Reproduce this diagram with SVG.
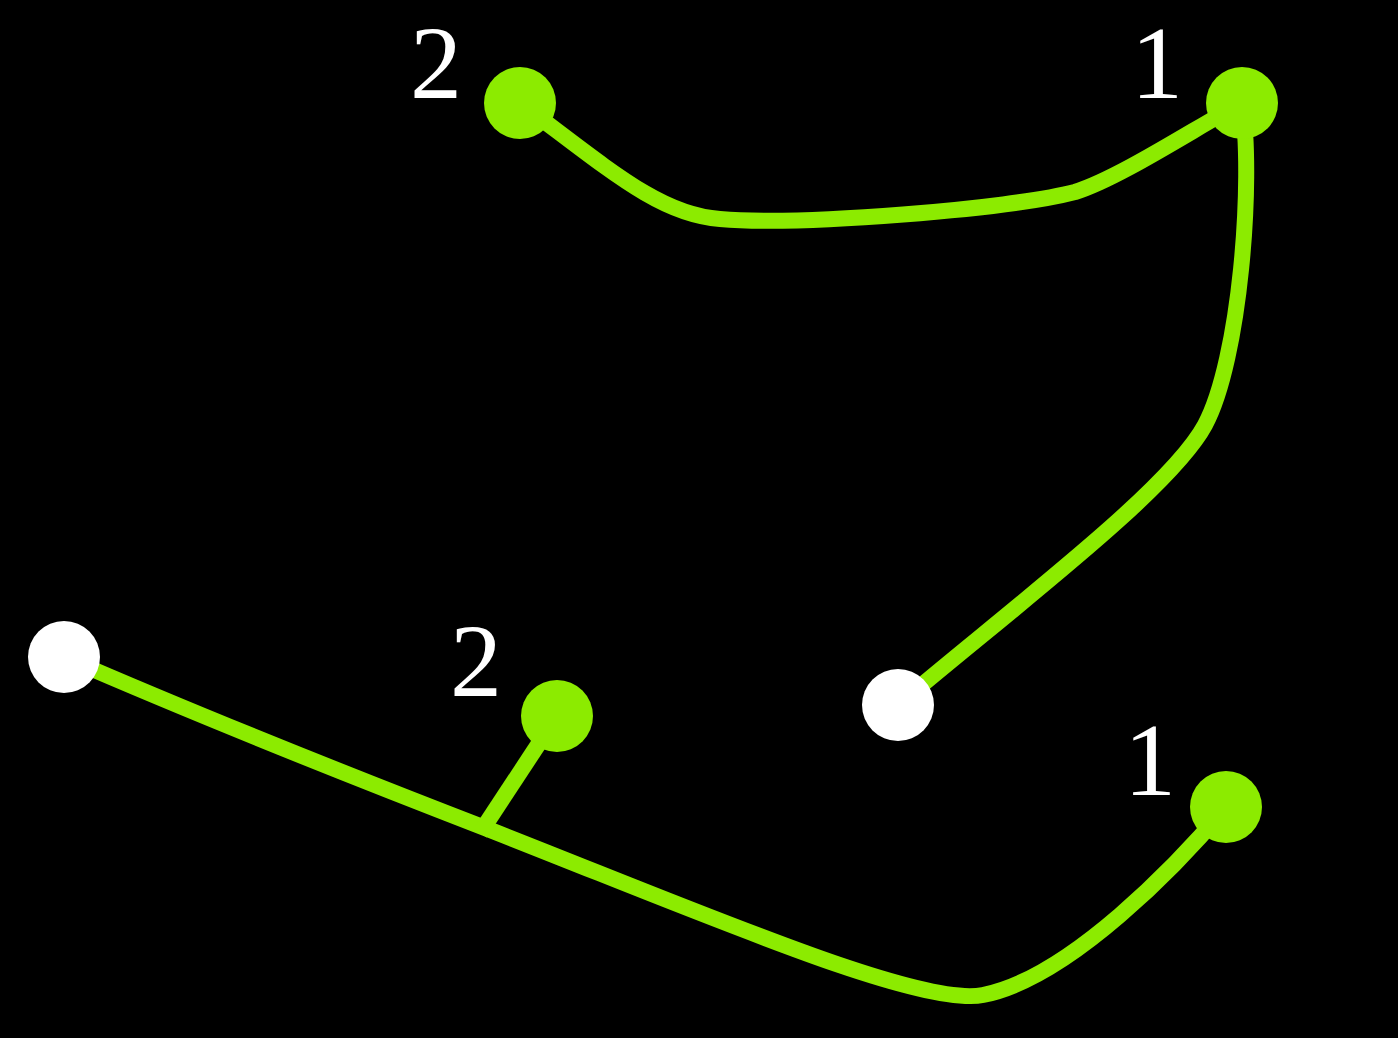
<svg xmlns="http://www.w3.org/2000/svg" width="1398" height="1038" viewBox="0 0 1398 1038">
<style>
.edge{fill:none;stroke:#8ceb00;stroke-width:16;stroke-linecap:round;stroke-linejoin:round}
.g{fill:#8ceb00}
.w{fill:#ffffff}
.lbl{fill:#ffffff;font-family:"Liberation Serif",serif;font-size:104px;text-anchor:middle}
</style>
<rect width="1398" height="1038" fill="#000000"/>
<g id="connectors">
<path class="edge" d="M520,103 C610,170 660,215 720,219 C800,226 1010,209 1075,192 C1120,178 1200,125 1242,103"/>
<path class="edge" d="M1242,103 C1254,180 1240,360 1205,425 C1170,490 1010,610 898,705"/>
<path class="edge" d="M64,657 C200,716 340,772 485,828 C700,912 920,1008 983,995 C1070,978 1180,862 1226,807"/>
<path class="edge" style="stroke-linecap:butt" d="M480,833 L557,716"/>
</g>
<g id="n1"><circle class="g" cx="520" cy="103" r="36"/><text class="lbl" x="436" y="98">2</text></g>
<g id="n2"><circle class="g" cx="1242" cy="103" r="36"/><text class="lbl" x="1157" y="98">1</text></g>
<g id="n3"><circle class="w" cx="898" cy="705" r="36"/></g>
<g id="n4"><circle class="w" cx="64" cy="657" r="36"/></g>
<g id="n5"><circle class="g" cx="557" cy="716" r="36"/><text class="lbl" x="476" y="696">2</text></g>
<g id="n6"><circle class="g" cx="1226" cy="807" r="36"/><text class="lbl" x="1150" y="795">1</text></g>
</svg>
